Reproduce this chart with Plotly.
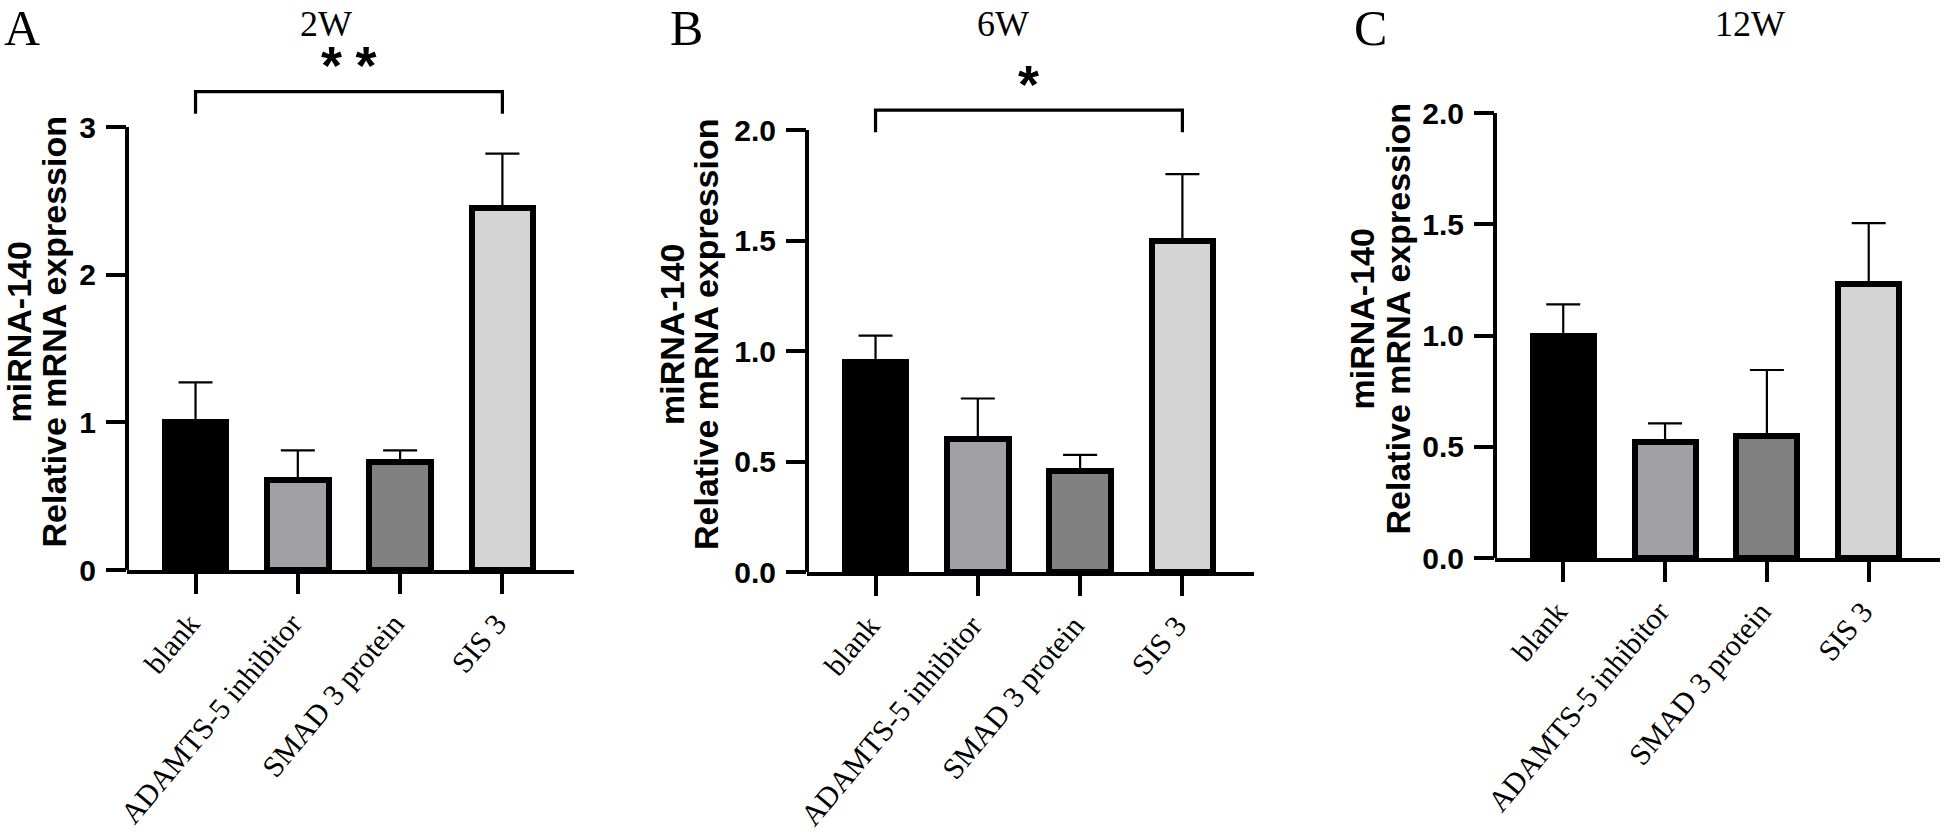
import plotly.graph_objects as go

# ---------------- data ----------------
categories = ["blank", "ADAMTS-5 inhibitor", "SMAD 3 protein", "SIS 3"]
bar_colors = ["#000000", "#a1a1a5", "#808080", "#d4d4d4"]

mean_2w = [1.00, 0.61, 0.73, 2.45]
sd_2w = [0.27, 0.20, 0.08, 0.37]
mean_6w = [0.95, 0.60, 0.455, 1.50]
sd_6w = [0.12, 0.185, 0.075, 0.30]
mean_12w = [1.00, 0.52, 0.55, 1.23]
sd_12w = [0.14, 0.085, 0.295, 0.275]

panel_letters = ["A", "B", "C"]
panel_titles = ["2W", "6W", "12W"]

ytick_vals_2w = [0, 1, 2, 3]
ytick_text_2w = ["0", "1", "2", "3"]
ytick_vals_6w = [0, 0.5, 1.0, 1.5, 2.0]
ytick_text_6w = ["0.0", "0.5", "1.0", "1.5", "2.0"]
ytick_vals_12w = [0, 0.5, 1.0, 1.5, 2.0]
ytick_text_12w = ["0.0", "0.5", "1.0", "1.5", "2.0"]

sig_labels = ["*\u2005*", "*", None]
sig_pair = [categories[0], categories[3]]

ytitle_line1 = "miRNA-140"
ytitle_line2 = "Relative mRNA expression"

# ---------------- layout geometry (page pixels) ----------------
W, H = 1944, 834
PLOT_TOP = 40


def fx(px):
    return px / W


def fy(py):
    return 1 - py / H


panels = [
    dict(left=127, right=574, zero=570, toptick=127, title_x=326, letter_x=22,
         yt1=19, yt2=54, br=(3.09, 3.24), star_y=3.44),
    dict(left=807, right=1254, zero=572, toptick=130, title_x=1003, letter_x=686,
         yt1=672, yt2=706, br=(1.99, 2.09), star_y=2.22),
    dict(left=1495, right=1940, zero=558, toptick=113, title_x=1750, letter_x=1370,
         yt1=1361, yt2=1397, br=None, star_y=None),
]
means = [mean_2w, mean_6w, mean_12w]
sds = [sd_2w, sd_6w, sd_12w]
tickvals = [ytick_vals_2w, ytick_vals_6w, ytick_vals_12w]
ticktexts = [ytick_text_2w, ytick_text_6w, ytick_text_12w]

SANS = "Liberation Sans, Arial, sans-serif"
SERIF = "Liberation Serif, Times New Roman, serif"

fig = go.Figure()
layout = dict(
    width=W, height=H,
    margin=dict(l=0, r=0, t=0, b=0, pad=0, autoexpand=False),
    paper_bgcolor="white", plot_bgcolor="white", showlegend=False,
    bargap=0,
)
shapes = []
annotations = []

for i, p in enumerate(panels):
    sfx = "" if i == 0 else str(i + 1)
    xa, ya = "x" + sfx, "y" + sfx
    top_val = tickvals[i][-1]
    ymax = top_val * (p["zero"] - PLOT_TOP) / (p["zero"] - p["toptick"])

    fig.add_trace(go.Bar(
        x=categories, y=means[i], width=0.6,
        marker=dict(color=bar_colors, line=dict(color="black", width=6)),
        error_y=dict(type="data", symmetric=False, array=sds[i],
                     arrayminus=[0] * len(sds[i]), color="black",
                     thickness=2.2, width=17),
        xaxis=xa, yaxis=ya, hoverinfo="skip",
    ))

    layout["xaxis" + sfx] = dict(
        domain=[fx(p["left"]), fx(p["right"])], anchor=ya,
        type="category", range=[-0.67, 3.7],
        showline=True, linewidth=4, linecolor="black",
        ticks="outside", ticklen=20, tickwidth=4, tickcolor="black",
        tickangle=-50, ticklabelstandoff=0, ticklabelshift=-6,
        tickfont=dict(family=SERIF, size=30, color="black"),
        showgrid=False, zeroline=False, fixedrange=True, automargin=False,
    )
    layout["yaxis" + sfx] = dict(
        domain=[fy(p["zero"]), fy(PLOT_TOP)], anchor=xa,
        range=[0, ymax], showline=False,
        tickvals=tickvals[i], ticktext=ticktexts[i],
        ticks="outside", ticklen=20, tickwidth=4, tickcolor="black",
        ticklabelstandoff=4,
        tickfont=dict(family=SANS, size=30, color="black", weight="bold"),
        showgrid=False, zeroline=False, fixedrange=True, automargin=False,
    )

    # y axis line, only up to the top tick
    shapes.append(dict(type="line", xref=xa + " domain", yref=ya,
                       x0=0, x1=0, y0=0, y1=top_val,
                       line=dict(color="black", width=4), layer="above"))

    # significance bracket + stars
    if sig_labels[i]:
        lo, hi = p["br"]
        i0, i1 = categories.index(sig_pair[0]), categories.index(sig_pair[1])
        shapes.append(dict(type="path", xref=xa, yref=ya,
                           path=f"M {i0},{lo} V {hi} H {i1} V {lo}",
                           line=dict(color="black", width=3.2)))
        annotations.append(dict(xref=xa, yref=ya, x=(i0 + i1) / 2, y=p["star_y"],
                                text=sig_labels[i], showarrow=False,
                                xanchor="center", yanchor="middle", yshift=-3,
                                font=dict(family=SANS, size=54, color="black",
                                          weight="bold")))

    # panel title
    annotations.append(dict(xref="paper", yref="paper", x=fx(p["title_x"]),
                            y=fy(3), text=panel_titles[i], showarrow=False,
                            xanchor="center", yanchor="top", borderpad=0,
                            font=dict(family=SERIF, size=36, color="black")))
    # panel letter
    annotations.append(dict(xref="paper", yref="paper", x=fx(p["letter_x"]),
                            y=fy(28), text=panel_letters[i], showarrow=False,
                            xanchor="center", yanchor="middle",
                            font=dict(family=SERIF, size=50, color="black")))
    # y-axis titles (two lines)
    yc = fy((p["zero"] + p["toptick"]) / 2 - 16)
    for xpx, txt in ((p["yt1"], ytitle_line1), (p["yt2"], ytitle_line2)):
        annotations.append(dict(xref="paper", yref="paper", x=fx(xpx), y=yc,
                                text=txt, textangle=-90, showarrow=False,
                                xanchor="center", yanchor="middle",
                                font=dict(family=SANS, size=34, color="black",
                                          weight="bold")))

layout["shapes"] = shapes
layout["annotations"] = annotations
fig.update_layout(**layout)
fig.write_html("out.html",
               config=dict(displayModeBar=False, responsive=False),
               post_script="document.body.style.margin='0';"
                           "document.body.style.overflow='hidden';")
